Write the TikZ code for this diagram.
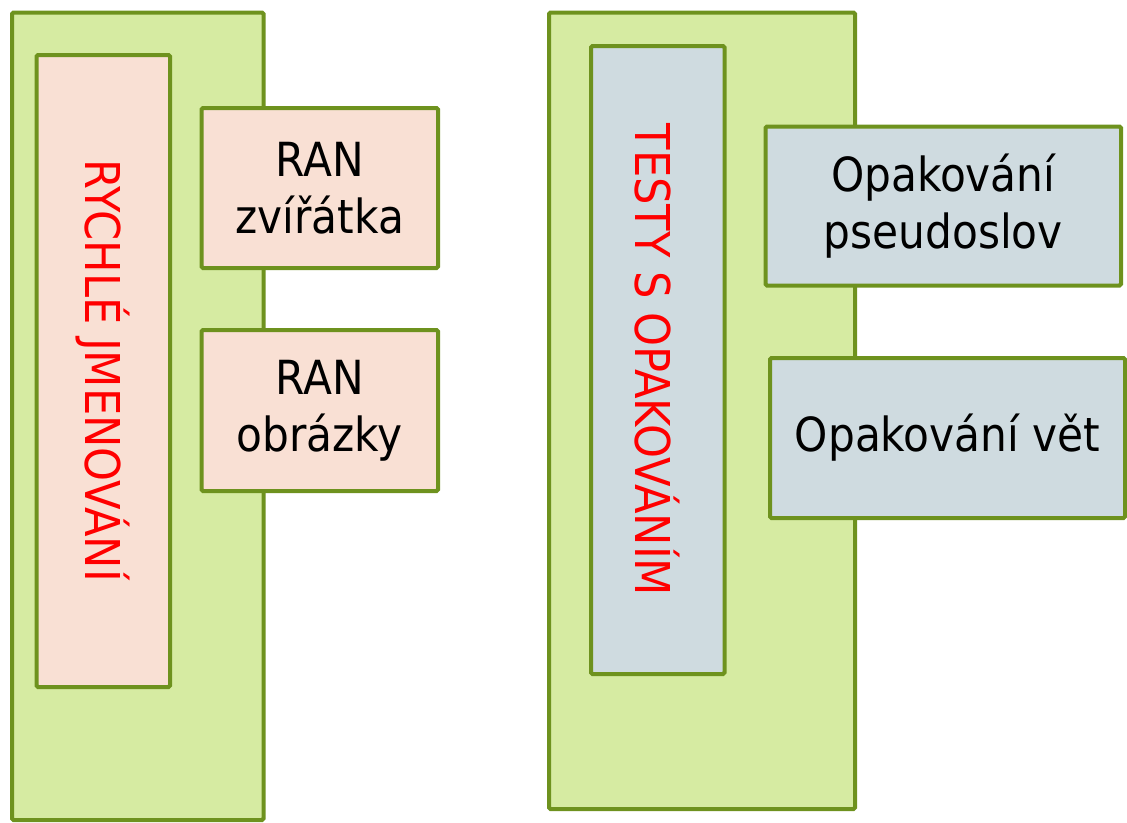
\documentclass[tikz,border=0pt]{standalone}
\usepackage{fontspec}
\setmainfont{DejaVu Sans Condensed}
\definecolor{gfill}{RGB}{214,235,162}
\definecolor{gline}{RGB}{110,146,30}
\definecolor{pinkfill}{RGB}{249,224,212}
\definecolor{grayfill}{RGB}{207,219,224}
\definecolor{redtext}{RGB}{255,0,0}
\tikzset{
  box/.style={draw=gline, line width=4pt, rounded corners=1.5pt, rectangle, inner sep=0pt, outer sep=0pt},
  outerbox/.style={box, fill=gfill},
  pinkbox/.style={box, fill=pinkfill},
  graybox/.style={box, fill=grayfill},
  lbl/.style={font=\fontsize{47}{57}\selectfont, align=center, text=black},
  vlbl/.style={font=\fontsize{48}{58}\selectfont, text=redtext, rotate=-90}
}
\begin{document}
\begin{tikzpicture}[x=1pt,y=-1pt]
\useasboundingbox (0,0) rectangle (1127,822);
% left group
\node[outerbox, minimum width=251.5pt, minimum height=807.5pt] (lout) at (137.75,416.25) {};
\node[pinkbox, minimum width=133.5pt, minimum height=632pt] (lin) at (103.25,371) {};
\node[vlbl] (ltxt) at (lin.center) {RYCHLÉ JMENOVÁNÍ};
\node[pinkbox, minimum width=236.5pt, minimum height=160pt] (ran1) at (319.75,188) {};
\node[lbl] (ran1t) at (ran1.center) {RAN\\zvířátka};
\node[pinkbox, minimum width=236.5pt, minimum height=161pt] (ran2) at (319.75,410.5) {};
\node[lbl] (ran2t) at (ran2.center) {RAN\\obrázky};
% right group
\node[outerbox, minimum width=306pt, minimum height=796.5pt] (rout) at (702,410.75) {};
\node[graybox, minimum width=133.5pt, minimum height=628pt] (rin) at (657.75,360) {};
\node[vlbl] (rtxt) at (rin.center) {TESTY S OPAKOVÁNÍM};
\node[graybox, minimum width=355.5pt, minimum height=159pt] (op1) at (943.25,206) {};
\node[lbl] (op1t) at (op1.center) {Opakování\\pseudoslov};
\node[graybox, minimum width=355pt, minimum height=160pt] (op2) at (947.5,438) {};
\node[lbl] (op2t) at (op2.center) {Opakování vět};
\end{tikzpicture}
\end{document}
